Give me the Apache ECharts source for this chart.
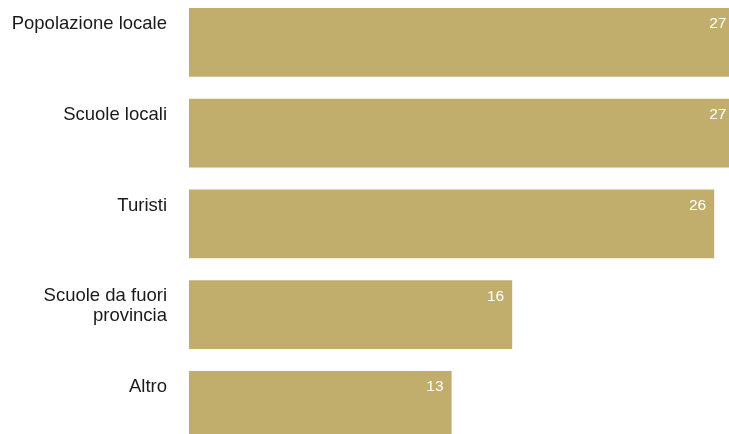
<!DOCTYPE html>
<html>
<head>
<meta charset="utf-8">
<script src="https://cdn.jsdelivr.net/npm/echarts@6/dist/echarts.min.js"></script>
<style>
  html, body { margin: 0; padding: 0; background: #ffffff; }
  #chart { width: 729px; height: 434px; }
</style>
</head>
<body>
<div id="chart"></div>
<script>
// Categories, top to bottom
const categories = [
  'Popolazione locale',
  'Scuole locali',
  'Turisti',
  'Scuole da fuori\nprovincia',
  'Altro'
];
// Values shown at the end of each bar
const values = [27, 27, 26, 16, 13];

const barColor = '#c1ae6d';
const fontFamily = '"Liberation Sans", Arial, Helvetica, sans-serif';

const chart = echarts.init(document.getElementById('chart'), null, { renderer: 'canvas' });

chart.setOption({
  animation: false,
  backgroundColor: '#ffffff',
  grid: {
    left: 189,
    top: -3,
    width: 545.4,
    height: 453.75,
    containLabel: false,
    outerBoundsMode: 'none'
  },
  xAxis: {
    type: 'value',
    min: 0,
    max: 27,
    show: false
  },
  yAxis: {
    type: 'category',
    data: categories,
    inverse: true,
    axisLine: { show: false },
    axisTick: { show: false },
    axisLabel: { show: false },
    splitLine: { show: false }
  },
  series: [
    {
      type: 'bar',
      data: values,
      barCategoryGap: '24.3%',
      itemStyle: { color: barColor },
      clip: false,
      label: {
        show: true,
        position: 'insideTopRight',
        distance: 8,
        color: '#ffffff',
        fontFamily: fontFamily,
        fontSize: 15.5
      }
    },
    {
      // category names, top-aligned beside each bar
      type: 'bar',
      data: values,
      barGap: '-100%',
      barCategoryGap: '24.3%',
      itemStyle: { color: 'rgba(0,0,0,0)' },
      silent: true,
      clip: false,
      label: {
        show: true,
        position: [-22, 6],
        align: 'right',
        verticalAlign: 'top',
        formatter: (p) => categories[p.dataIndex],
        color: '#1a1a1a',
        fontFamily: fontFamily,
        fontSize: 18.5,
        lineHeight: 20
      }
    }
  ]
});
</script>
</body>
</html>
